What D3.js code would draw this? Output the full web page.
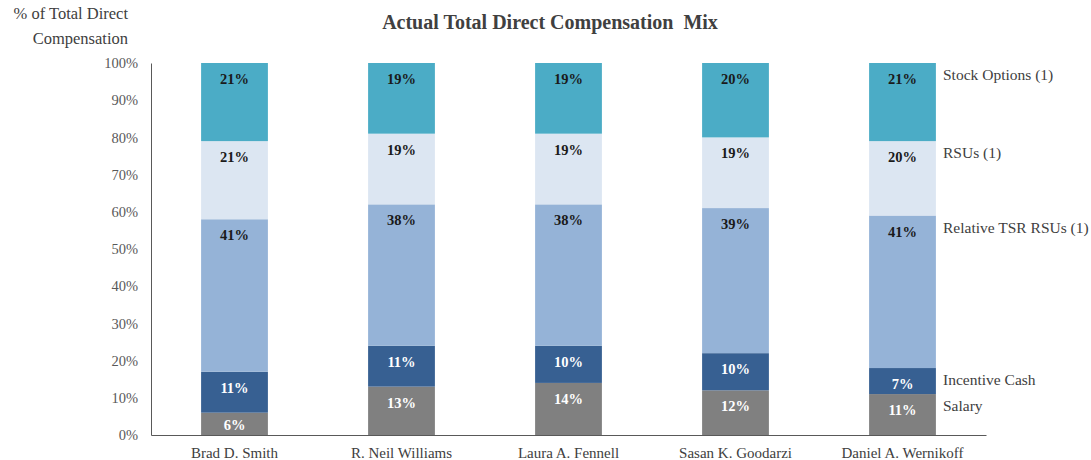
<!DOCTYPE html>
<html><head><meta charset="utf-8">
<script src="https://cdn.jsdelivr.net/npm/d3@7"></script>
<style>
body{margin:0;background:#fff;}
</style></head>
<body><svg id="c" width="1091" height="460" font-family="'Liberation Serif','Times New Roman',serif"></svg>
<script>
const categories = ["Brad D. Smith","R. Neil Williams","Laura A. Fennell","Sasan K. Goodarzi","Daniel A. Wernikoff"];
const seriesNames = ["Salary","Incentive Cash","Relative TSR RSUs (1)","RSUs (1)","Stock Options (1)"];
const salary = [6,13,14,12,11];
const incentiveCash = [11,11,10,10,7];
const relativeTsrRsus = [41,38,38,39,41];
const rsus = [21,19,19,19,20];
const stockOptions = [21,19,19,20,21];
const yTicks = [0,10,20,30,40,50,60,70,80,90,100];
const colors = ["#808080","#376092","#95B3D7","#DCE6F2","#4BACC6"];
const labelColors = ["#ffffff","#ffffff","#1a1a1a","#1a1a1a","#1a1a1a"];

const svg = d3.select("#c");
const pLeft = 151, pRight = 986, pTop = 63, pBottom = 435;
const x = d3.scaleBand().domain(categories).range([pLeft, pRight]).paddingInner(0.6).paddingOuter(0.3);
const y = d3.scaleLinear().domain([0,100]).range([pBottom, pTop]);

const seriesVals = [salary, incentiveCash, relativeTsrRsus, rsus, stockOptions];
const rows = categories.map((c,i)=>{const o={cat:c}; seriesNames.forEach((s,j)=>o[s]=seriesVals[j][i]); return o;});
const stacked = d3.stack().keys(seriesNames)(rows);

// title
svg.append("text").attr("x",550).attr("y",29).attr("text-anchor","middle")
  .attr("font-size",20).attr("font-weight","bold").attr("fill","#404040")
  .style("white-space","pre").text("Actual Total Direct Compensation  Mix");

// y title
const yt = svg.append("text").attr("text-anchor","end").attr("font-size",16.5).attr("fill","#404040");
yt.append("tspan").attr("x",128).attr("y",19).text("% of Total Direct");
yt.append("tspan").attr("x",128).attr("y",44).text("Compensation");

// bars
stacked.forEach((layer,j)=>{
  const g = svg.append("g");
  g.selectAll("rect").data(layer).enter().append("rect")
    .attr("x",d=>x(d.data.cat)).attr("width",x.bandwidth())
    .attr("y",d=>y(d[1])).attr("height",d=>y(d[0])-y(d[1]))
    .attr("fill",colors[j]);
  g.selectAll("text").data(layer).enter().append("text")
    .attr("x",d=>x(d.data.cat)+x.bandwidth()/2)
    .attr("y",d=>Math.min(y(d[1])+16, y(d[0])-10)+5)
    .attr("text-anchor","middle").attr("font-size",14.5).attr("font-weight","bold")
    .attr("fill",labelColors[j]).text(d=>(d[1]-d[0])+"%");
});

// series labels at right of last bar
const lastIdx = categories.length-1;
stacked.forEach((layer,j)=>{
  const d = layer[lastIdx];
  svg.append("text").attr("x",943).attr("y",y(d[1])+17)
    .attr("font-size",15.5).attr("fill","#404040").text(seriesNames[j]);
});

// y axis
const yAxis = d3.axisLeft(y).tickValues(yTicks).tickSize(0).tickPadding(13).tickFormat(d=>d+"%");
const ya = svg.append("g").attr("transform",`translate(${pLeft},0)`).call(yAxis);
ya.attr("font-family",null);
ya.select(".domain").attr("stroke","#595959");
ya.selectAll("text").attr("font-size",14.5).attr("fill","#595959");

// x axis
const xAxis = d3.axisBottom(x).tickSize(0).tickPadding(12);
const xa = svg.append("g").attr("transform",`translate(0,${pBottom})`).call(xAxis);
xa.attr("font-family",null);
xa.select(".domain").attr("stroke","#595959");
xa.selectAll("text").attr("font-size",15).attr("fill","#404040");
</script></body></html>
